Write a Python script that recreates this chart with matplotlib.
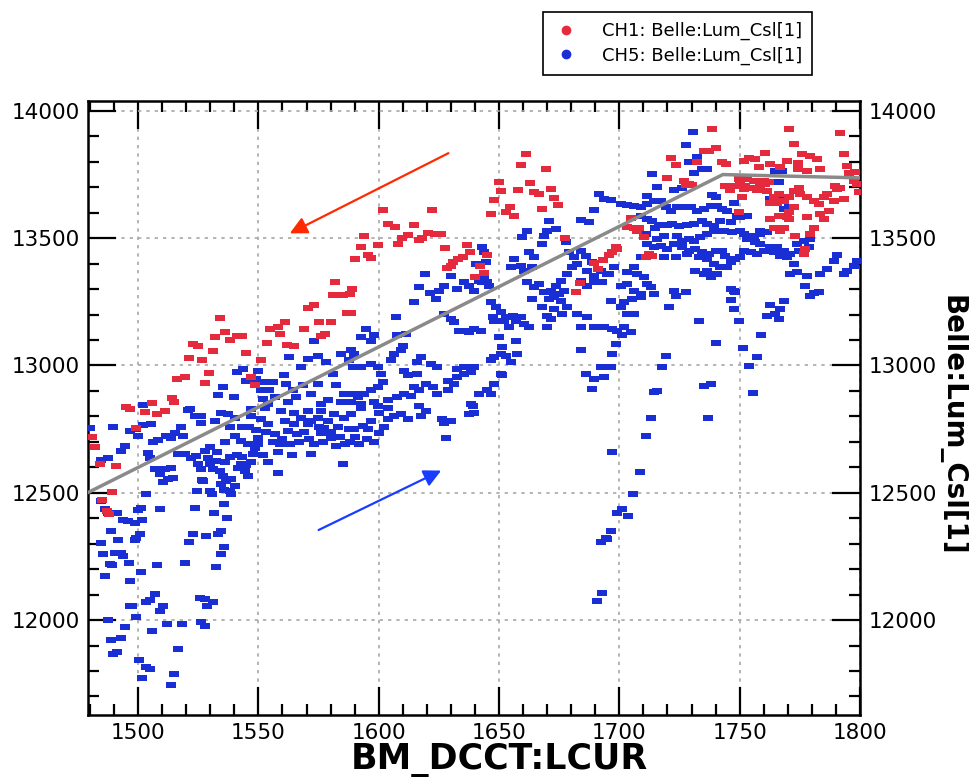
import matplotlib
matplotlib.use("Agg")
import matplotlib.pyplot as plt
import numpy as np
from matplotlib.lines import Line2D
from matplotlib.ticker import MultipleLocator

# CH1 (red) points: BM_DCCT:LCUR, Belle:Lum_Csl[1]
ch1_pts = [
    (1481, 12718), (1482, 12678), (1484, 12612), (1491, 12604), (1489, 12502), (1485, 12471),
    (1487, 12427), (1488, 12416), (1495, 12835), (1496.5, 12830), (1499, 12753), (1503, 12816),
    (1506, 12851), (1508, 12808), (1511, 12820), (1514, 12871), (1515, 12855), (1516, 12945),
    (1519.5, 12953), (1521, 13031), (1523, 13086), (1525, 13078), (1526.5, 13020), (1528, 12933),
    (1529.5, 12969), (1531, 13055), (1532, 13110), (1534, 13188), (1536, 13133), (1538, 13102),
    (1541, 13114), (1543, 13114), (1545, 13051), (1547, 12953), (1548.5, 12922), (1551, 13020),
    (1553.5, 13090), (1555, 13145), (1558, 13153), (1559, 13125), (1561, 13169), (1562, 13082),
    (1565, 13075), (1569, 13145), (1570.5, 13224), (1573, 13239), (1575, 13169), (1576, 13114),
    (1577.6, 13122), (1580, 13169), (1581, 13275), (1582, 13329), (1585, 13278), (1587, 13208),
    (1588, 13282), (1588.4, 13208), (1589, 13302), (1590, 13420), (1592.5, 13467), (1594, 13510),
    (1595.4, 13435), (1596.7, 13424), (1599.6, 13475), (1601.7, 13612), (1603.7, 13557),
    (1606.6, 13545), (1608, 13478), (1609.5, 13502), (1612, 13514), (1614.5, 13553), (1616.6, 13494),
    (1618, 13502), (1620.3, 13522), (1622, 13612), (1623.6, 13518), (1625.7, 13518), (1627.4, 13463),
    (1628.2, 13384), (1630, 13392), (1631, 13408), (1632.8, 13420), (1635, 13427), (1636.5, 13475),
    (1638, 13447), (1640, 13349), (1642, 13392), (1643.6, 13365), (1644.8, 13435), (1646.5, 13596),
    (1648, 13651), (1650, 13722), (1651, 13686), (1652.7, 13604), (1654.4, 13624), (1656.4, 13588),
    (1658, 13690), (1659.3, 13788), (1661.4, 13831), (1663, 13718), (1664.7, 13682), (1666.8, 13675),
    (1668, 13616), (1669.7, 13773), (1671.4, 13694), (1673, 13659), (1674.7, 13631), (1677.6, 13502),
    (1682, 13290), (1683.8, 13326), (1689.6, 13404), (1691.3, 13380), (1693, 13416), (1695.8, 13435),
    (1697, 13447), (1698.8, 13467), (1699.1, 13457), (1703.3, 13545), (1705, 13580), (1706.2, 13541),
    (1707.4, 13529), (1708.3, 13541), (1710.4, 13506), (1711.2, 13427), (1712.3, 13438), (1713.7, 13431),
    (1738.7, 13928), (1770.4, 13928), (1791.5, 13912), (1772.4, 13869), (1735.1, 13843), (1737.2, 13843),
    (1740, 13856), (1760.7, 13834), (1775.9, 13830), (1779.4, 13823), (1793.2, 13832), (1721.3, 13814),
    (1723.4, 13788), (1732.3, 13800), (1742.7, 13800), (1744.5, 13793), (1751.7, 13804), (1753.8, 13817),
    (1756.5, 13810), (1757.9, 13778), (1762.8, 13791), (1766.9, 13778), (1769.7, 13804), (1774.1, 13797),
    (1782.1, 13810), (1778, 13764), (1783.5, 13771), (1774.1, 13771), (1794.6, 13784), (1795.3, 13758),
    (1798, 13761), (1797.3, 13725), (1798.7, 13712), (1799.4, 13680), (1789.7, 13706), (1790.4, 13693),
    (1726.8, 13725), (1728.9, 13712), (1719.9, 13738), (1727.8, 13710), (1730, 13710),
    (1761.4, 13686), (1764.2, 13660), (1766.2, 13673), (1762.8, 13640), (1765.5, 13640), (1768.3, 13647),
    (1770.4, 13660), (1772.4, 13686), (1774.5, 13699), (1775.2, 13673), (1778, 13660), (1780.7, 13647),
    (1782.8, 13634), (1784.9, 13660), (1786.3, 13673), (1789, 13647), (1791.8, 13699), (1793.2, 13653),
    (1772.4, 13621), (1770.4, 13604), (1766.2, 13588), (1769.7, 13582), (1778, 13582), (1783.5, 13595),
    (1787, 13608), (1784.9, 13575), (1762.8, 13575), (1764.2, 13542), (1766.9, 13529), (1768.3, 13542),
    (1770.4, 13575), (1773.1, 13510), (1780.7, 13542), (1779.4, 13516), (1777.3, 13457), (1776.6, 13438),
    (1748.2, 13706), (1750.3, 13712), (1752.4, 13706), (1754.5, 13699), (1756.5, 13697), (1758.6, 13706),
    (1760.7, 13712), (1749.6, 13732), (1753.1, 13732), (1755.9, 13725), (1760, 13725), (1762.1, 13719),
    (1751.7, 13693), (1757.2, 13689), (1744, 13705), (1746, 13690), (1751, 13660), (1749.6, 13604),
]

# CH5 (blue) points
ch5_pts = [
    # low tail around 1480-1540
    (1487.5, 12000), (1488.7, 11922), (1492.8, 11928), (1489.6, 11867), (1491.4, 11873), (1494.7, 11971),
    (1496.5, 12056), (1497.5, 12056), (1499.3, 12013), (1501.4, 12190), (1496.8, 12154), (1486.2, 12174),
    (1488.2, 12220), (1489.2, 12216), (1485.5, 12259), (1490.3, 12265), (1493.1, 12265), (1493.8, 12252),
    (1496.1, 12224), (1484.5, 12301), (1491.7, 12315), (1498.6, 12315), (1499.3, 12324), (1500.7, 12337),
    (1488.7, 12350), (1493.8, 12393), (1495.8, 12390), (1498.6, 12383), (1501.7, 12392), (1487.5, 12422),
    (1490.3, 12422), (1491.4, 12421), (1486.2, 12435), (1500, 12431), (1501.4, 12439), (1509, 12435),
    (1484.8, 12468), (1503.5, 12494), (1508, 12217), (1503.5, 12069), (1504.8, 12078), (1506.9, 12102),
    (1509, 12037), (1510.4, 12054), (1505.8, 11956), (1512.2, 11984), (1518.3, 11984), (1516.6, 11886),
    (1500.3, 11843), (1503.5, 11814), (1504.8, 11808), (1501.7, 11773), (1515, 11788), (1513.8, 11745),
    (1519.4, 12224), (1521, 12308), (1522.8, 12337), (1523.8, 12442), (1524.3, 12505), (1528.3, 12331),
    (1531.5, 12422), (1532.5, 12210), (1533.2, 12337), (1534.3, 12350), (1534.6, 12259), (1535.7, 12288),
    (1535.7, 12457), (1537.1, 12400), (1525.6, 12085), (1527.7, 12082), (1531.1, 12069), (1528.8, 12056),
    (1526.3, 11991), (1527.7, 11978), (1526.6, 12549), (1529.7, 12507), (1530.7, 12497), (1535.9, 12510),
    (1538, 12505), (1538.7, 12494),
    # dense band 1480-1590
    (1480, 12755), (1489.6, 12758), (1484.8, 12627), (1487.5, 12638), (1493.1, 12664), (1494.5, 12684),
    (1496.5, 12742), (1499.3, 12749), (1500, 12723), (1502, 12766), (1505.5, 12769), (1504.1, 12657),
    (1506.2, 12701), (1508.3, 12706), (1504.8, 12638), (1506.9, 12592), (1509, 12572), (1512.4, 12555),
    (1510.4, 12544), (1511, 12592), (1513.8, 12599), (1514.5, 12559), (1511.8, 12723), (1513.8, 12716),
    (1515.5, 12736), (1518, 12758), (1518.7, 12723), (1520.7, 12827), (1516.6, 12651), (1519.4, 12651),
    (1522.1, 12638), (1524.2, 12644), (1524.9, 12612), (1526.3, 12592), (1527, 12546), (1527.7, 12664),
    (1529, 12638), (1529.7, 12612), (1531.1, 12592), (1532.5, 12625), (1533.9, 12586), (1535.3, 12566),
    (1536.6, 12546), (1534.6, 12533), (1538.7, 12553), (1540.1, 12527), (1541.5, 12599), (1542.9, 12612),
    (1544.3, 12586), (1545.6, 12566), (1523.5, 12801), (1526.3, 12801), (1526.3, 12775), (1531.8, 12782),
    (1534.6, 12814), (1537.3, 12808), (1540.1, 12795), (1540.1, 12723), (1542.9, 12703), (1545.6, 12690),
    (1548.4, 12677), (1547.7, 12651), (1549.8, 12716), (1554, 12769), (1556.7, 12729), (1558.8, 12690),
    (1562.2, 12742), (1565, 12769), (1567.8, 12795), (1570.5, 12769), (1574.7, 12795), (1577.4, 12755),
    (1580.2, 12716), (1582.3, 12684), (1585, 12612), (1571.9, 12651), (1576.1, 12821), (1581.6, 12808),
    (1585.7, 12795), (1552.6, 12834), (1559.5, 12821), (1565, 12814), (1570.5, 12821), (1576.1, 12736),
    (1558.1, 12576),
    (1546, 12760), (1549, 12745), (1551, 12790), (1553, 12740), (1556, 12700), (1558, 12660),
    (1560, 12710), (1561, 12780), (1563, 12690), (1564, 12650), (1566, 12730), (1567, 12700),
    (1569, 12740), (1571, 12710), (1572, 12780), (1573, 12690), (1575, 12760), (1577, 12700),
    (1579, 12780), (1580, 12740), (1583, 12760), (1584, 12720), (1586, 12690), (1588, 12700),
    (1590, 12720), (1592, 12690), (1595, 12710), (1597, 12780), (1598, 12700), (1602, 12760),
    (1604, 12790), (1536, 12620), (1538, 12640), (1541, 12650), (1543, 12640), (1545, 12610),
    (1547, 12620), (1550, 12690), (1552, 12650), (1554, 12620), (1530, 12680), (1533, 12660),
    (1536, 12700), (1538, 12760), (1543, 12760), (1547, 12800),
    (1502.1, 12843), (1521.4, 12830), (1535.3, 12915), (1533.2, 12885), (1539.7, 12876), (1541.2, 12974),
    (1543.6, 12987), (1545, 12941), (1547, 12830), (1549.1, 12948), (1549.8, 12980), (1552.5, 12935),
    (1554.6, 12902), (1556, 12935), (1551.2, 12902), (1556.7, 12876), (1551.9, 12869), (1554, 12850),
    (1560.8, 12961), (1561.5, 12928), (1562.9, 13033), (1564.3, 12902), (1565.7, 12876), (1562.2, 12856),
    (1567.8, 12993), (1570.5, 13026), (1574.7, 13039), (1578.1, 13013), (1568.5, 12922), (1571.9, 12889),
    (1574.7, 12928), (1576.1, 12850), (1578.8, 12863), (1580.9, 12967), (1582.3, 12922), (1584.4, 13046),
    (1585.7, 12889), (1584.4, 12856), (1573.3, 13098),
    # 1587-1700
    (1642.8, 13464), (1643.8, 13444), (1644.5, 13405), (1645.2, 13327), (1643.1, 13327), (1643.8, 13346),
    (1645.9, 13314), (1619.2, 13359), (1616.8, 13310), (1614.8, 13248), (1621.4, 13285), (1623.8, 13261),
    (1625.1, 13294), (1627.2, 13314), (1630, 13350), (1632.7, 13301), (1635.5, 13327), (1637.6, 13314),
    (1639.7, 13294), (1641.7, 13333), (1640.3, 13399), (1607.2, 13189), (1594.7, 13144), (1592.6, 13111),
    (1596.8, 13098), (1598.2, 13118), (1607.8, 13118), (1611.3, 13124), (1609.9, 13078), (1609.2, 13059),
    (1606.5, 13046), (1605.1, 13020), (1627.2, 13202), (1630, 13183), (1631.4, 13170), (1633.4, 13137),
    (1636.2, 13137), (1637.6, 13131), (1639.7, 13144), (1642.4, 13137),
    (1588.5, 13059), (1589.9, 13046), (1587.8, 13020), (1589.2, 12993), (1592.6, 12993), (1596.8, 13007),
    (1599.5, 12993), (1600.9, 12967), (1601.6, 12935), (1599.5, 12915), (1596.8, 12902), (1594, 12889),
    (1591.2, 12876), (1589.9, 12889), (1588.5, 12856), (1592.6, 12850), (1598.2, 12856), (1603.7, 12863),
    (1607.8, 12876), (1610.6, 12889), (1613.4, 12882), (1614.8, 12915), (1616.8, 12902), (1612, 12961),
    (1610.6, 12980), (1616.1, 12967), (1619.6, 12928), (1622.4, 12915), (1624.4, 12889), (1628.6, 12902),
    (1631.4, 12928), (1632.7, 12954), (1635.5, 12967), (1638.3, 12974), (1639.7, 12993), (1635.5, 12993),
    (1632.7, 12987), (1628.6, 12941), (1624.4, 12993), (1621.7, 13007), (1616.1, 13013), (1617.5, 13033),
    (1638.3, 12850), (1641.7, 12889), (1645.2, 12902), (1646.6, 12889), (1648, 12928), (1650.7, 12967),
    (1691.5, 13673), (1693.6, 13653), (1689.4, 13610), (1683.9, 13571), (1687.4, 13562), (1670.8, 13568),
    (1673.5, 13536), (1670.1, 13529), (1661.8, 13527), (1668, 13477), (1668.7, 13510), (1659.7, 13503),
    (1662.5, 13444), (1664.5, 13425), (1663.9, 13386), (1656.2, 13418), (1654.9, 13386), (1659, 13392),
    (1660.4, 13372), (1677.7, 13484), (1679.1, 13444), (1681.1, 13425), (1682.5, 13399), (1680.5, 13386),
    (1678.4, 13359), (1683.9, 13451), (1686, 13431), (1688.7, 13405), (1692.2, 13372), (1695, 13359),
    (1686.7, 13372), (1689.4, 13353), (1683.9, 13333), (1686.7, 13314), (1689.4, 13327), (1692.9, 13327),
    (1675.6, 13333), (1677, 13294), (1674.9, 13281), (1673.5, 13314), (1661.8, 13327), (1664.5, 13307),
    (1666.6, 13320), (1668.7, 13288), (1670.8, 13261), (1671.5, 13294), (1672.9, 13268), (1675.6, 13255),
    (1678.4, 13229), (1676.3, 13202), (1672.9, 13222), (1670.1, 13196), (1663.9, 13261), (1668, 13229),
    (1671.5, 13183), (1670.1, 13150),
    (1646.6, 13248), (1648.6, 13229), (1650.7, 13209), (1652.8, 13189), (1655.6, 13196), (1656.9, 13176),
    (1659, 13189), (1660.4, 13163), (1662.5, 13150), (1647.3, 13189), (1648, 13176), (1652.1, 13176),
    (1654.2, 13150), (1650, 13111), (1651.4, 13072), (1650.7, 13046), (1648, 13033), (1652.8, 13039),
    (1646.6, 13020), (1656.9, 13098), (1657.6, 13046), (1654.9, 13013), (1651.4, 12961),
    (1683.9, 13059), (1686, 12967), (1689.4, 12948), (1692.2, 12993), (1688.7, 12909), (1693.6, 12954),
    (1693.6, 13150), (1689.4, 13150), (1683.9, 13150), (1682.5, 13202), (1686.7, 13189),
    # 1695-1800
    (1730.5, 13919), (1727.9, 13865), (1732.1, 13819), (1728.9, 13801), (1734.4, 13771), (1736.5, 13771),
    (1731, 13758), (1713.7, 13751), (1715.7, 13702), (1722.7, 13689), (1726.1, 13697), (1711.6, 13666),
    (1738.6, 13669), (1740, 13660), (1696.4, 13651),
    (1700.5, 13634), (1703.3, 13631), (1706.1, 13627), (1708.8, 13621), (1711.6, 13634), (1714.4, 13647),
    (1717.1, 13647), (1719.2, 13621), (1721.3, 13608), (1724, 13621), (1726.8, 13621), (1729.6, 13623),
    (1732.3, 13608), (1735.1, 13614), (1737.9, 13627), (1740.6, 13627), (1742.7, 13614), (1744.8, 13608),
    (1747.6, 13640), (1748.9, 13588), (1750.3, 13582), (1753.1, 13588), (1746.2, 13562),
    (1708.8, 13588), (1711.6, 13575), (1713.7, 13569), (1716.4, 13553), (1719.9, 13553), (1722, 13556),
    (1724.7, 13549), (1728.2, 13553), (1731, 13556), (1734.4, 13569), (1736.5, 13556), (1739.3, 13549),
    (1742, 13569),
    (1708.1, 13529), (1710.9, 13516), (1715, 13542), (1715.7, 13497), (1718.5, 13510), (1724, 13510),
    (1726.1, 13490), (1728.9, 13497), (1731, 13490), (1733.7, 13503), (1736.5, 13516), (1739.3, 13529),
    (1743.4, 13529), (1746.9, 13525), (1750.3, 13529),
    (1711.6, 13477), (1714.4, 13464), (1717.1, 13470), (1719.9, 13457), (1722.7, 13477), (1726.1, 13464),
    (1728.9, 13451), (1731.6, 13457), (1734.4, 13444), (1737.2, 13438), (1740, 13451), (1742.7, 13451),
    (1744.1, 13431),
    (1718.5, 13425), (1723.4, 13425), (1728.2, 13438), (1733, 13425), (1736.5, 13418), (1739.3, 13399),
    (1742, 13386), (1736.5, 13372), (1735.1, 13359), (1737.9, 13346), (1740.6, 13359), (1744.8, 13386),
    (1746.2, 13405), (1748.2, 13418), (1750.3, 13425),
    (1751.7, 13516), (1753.1, 13497), (1755.9, 13510), (1758.6, 13516), (1756.5, 13484), (1758.6, 13477),
    (1760, 13451), (1762.8, 13464), (1765.5, 13464), (1768.3, 13451), (1771.1, 13438), (1773.8, 13477),
    (1776.6, 13490), (1779.4, 13497), (1778.7, 13464), (1774.5, 13451), (1769.7, 13425), (1766.9, 13431),
    (1764.2, 13444), (1757.2, 13438), (1754.5, 13444), (1751.7, 13451), (1758.6, 13529), (1761.4, 13523),
    (1762.8, 13653), (1766.9, 13660), (1766.2, 13719), (1767.6, 13765), (1764.8, 13765), (1770.4, 13621),
    (1768.3, 13614),
    (1773.8, 13366), (1772.4, 13399), (1771.1, 13359), (1778, 13353), (1777.3, 13314), (1783.5, 13359),
    (1786.3, 13379), (1789, 13412), (1790.4, 13435), (1794.6, 13372), (1793.2, 13359), (1797.3, 13392),
    (1798.7, 13412),
    (1708.8, 13425), (1706.1, 13386), (1703.3, 13366), (1707.4, 13359), (1710.2, 13346), (1697.8, 13386),
    (1695.7, 13359),
    (1700.5, 13314), (1703.3, 13320), (1706.1, 13294), (1708.8, 13281), (1711.6, 13320), (1713, 13307),
    (1714.4, 13281), (1708.8, 13268), (1705.4, 13261), (1701.9, 13248), (1700.5, 13229), (1703.3, 13202),
    (1706.1, 13202), (1696.4, 13255),
    (1720.6, 13229), (1723.4, 13274), (1727.5, 13288), (1722.7, 13294), (1731.6, 13372),
    (1746.2, 13301), (1747.6, 13294), (1748.2, 13288), (1746.2, 13257), (1747.6, 13222), (1749.6, 13174),
    (1697.1, 13144), (1699.1, 13137), (1701.9, 13150), (1704.7, 13133), (1701.2, 13118), (1698.5, 13085),
    (1697.1, 13046), (1696.4, 12993),
    (1733, 13174), (1740, 13089), (1751.3, 13068), (1753.8, 12997), (1757.2, 13033), (1758.9, 13118),
    (1762.8, 13239), (1761.4, 13196), (1764.8, 13202), (1766.9, 13222), (1766.2, 13183), (1768.3, 13255),
    (1780.7, 13284), (1782.8, 13288), (1779.4, 13274), (1719.2, 13039), (1717.8, 12993),
    (1735.1, 12921), (1737.9, 12928), (1714.4, 12896), (1715.7, 12899), (1755.4, 12893),
    # low tail around 1690-1740
    (1713, 12795), (1736.9, 12795), (1711.2, 12723), (1697.1, 12660), (1708.6, 12583), (1705.8, 12497),
    (1699.1, 12422), (1701.2, 12435), (1703.6, 12407), (1696.4, 12350), (1695, 12318),
    (1692.2, 12305), (1694.3, 12324), (1690.8, 12076), (1692.9, 12105),
    # 1587-1640 lower edge
    (1627.9, 12716), (1626.5, 12788), (1630, 12782), (1627.2, 12775), (1637.6, 12808), (1639.7, 12814),
    (1639, 12840), (1617.5, 12801), (1619.6, 12821), (1616.8, 12840), (1606.5, 12801), (1609.2, 12808),
    (1612, 12788), (1600.2, 12814), (1600.2, 12736), (1595.4, 12749), (1593.3, 12762), (1589.9, 12749),
    (1587.8, 12749), (1588.5, 12808), (1592.6, 12834), (1599.5, 12840), (1603.7, 12834),
]

# gray guide line
guide_x = [1479, 1743, 1800]
guide_y = [12500, 13750, 13737]

red = '#e62a3e'
blue = '#1a2ed6'

ch1 = np.array(ch1_pts)
ch5 = np.array(ch5_pts)

fig = plt.figure(figsize=(9.69, 7.77), dpi=100)
ax = fig.add_axes([88/969, 1-715/777, 772/969, 614/777])

rect = [(-1, -0.62), (1, -0.62), (1, 0.62), (-1, 0.62), (-1, -0.62)]
ax.scatter(ch5[:, 0], ch5[:, 1], marker=rect, s=56, color=blue, linewidths=0, zorder=3)
ax.scatter(ch1[:, 0], ch1[:, 1], marker=rect, s=56, color=red, linewidths=0, zorder=4)
ax.plot(guide_x, guide_y, color='#8a8a8a', lw=2.5, zorder=5)

ax.set_xlim(1479.2, 1800)
ax.set_ylim(11627, 14039)
ax.xaxis.set_major_locator(MultipleLocator(50))
ax.xaxis.set_minor_locator(MultipleLocator(10))
ax.yaxis.set_major_locator(MultipleLocator(500))
ax.yaxis.set_minor_locator(MultipleLocator(100))

ax.grid(True, which='major', color='#a8a8a8', linestyle=(0, (2, 3)), lw=1.2)
ax.set_axisbelow(True)

ax.tick_params(which='both', direction='in', top=True, right=True, labelright=True,
               width=1.6, color='black', labelsize=15.5)
ax.tick_params(which='major', length=20, pad=6)
ax.tick_params(which='minor', length=8)
for s in ax.spines.values():
    s.set_linewidth(1.8)

fig.text(0.5 * (318 + 680) / 969, 1 - 760 / 777, 'BM_DCCT:LCUR', fontsize=25, fontweight='bold',
         ha='center', va='center')
fig.text(952 / 969, 1 - 425 / 777, 'Belle:Lum_Csl[1]', fontsize=20, fontweight='bold',
         rotation=270, ha='center', va='center')

ax.annotate('', xy=(1562, 13514), xytext=(1630, 13839),
            arrowprops=dict(arrowstyle='-|>', color='#ff2a00', lw=1.6, mutation_scale=26), zorder=6)
ax.annotate('', xy=(1627, 12592), xytext=(1574, 12349),
            arrowprops=dict(arrowstyle='-|>', color='#1a3cff', lw=1.6, mutation_scale=26), zorder=6)

handles = [Line2D([], [], marker='o', ls='', color=red, markersize=6),
           Line2D([], [], marker='o', ls='', color=blue, markersize=6)]
leg = fig.legend(handles, ['CH1: Belle:Lum_Csl[1]', 'CH5: Belle:Lum_Csl[1]'],
                 loc='upper left', bbox_to_anchor=(543/969, 1-12/777), borderaxespad=0,
                 fontsize=13, fancybox=False, edgecolor='black', framealpha=1,
                 handlelength=1.4, handletextpad=1.3, labelspacing=0.35, borderpad=0.55)
leg.get_frame().set_linewidth(1.2)

fig.savefig('out.png', dpi=100)
